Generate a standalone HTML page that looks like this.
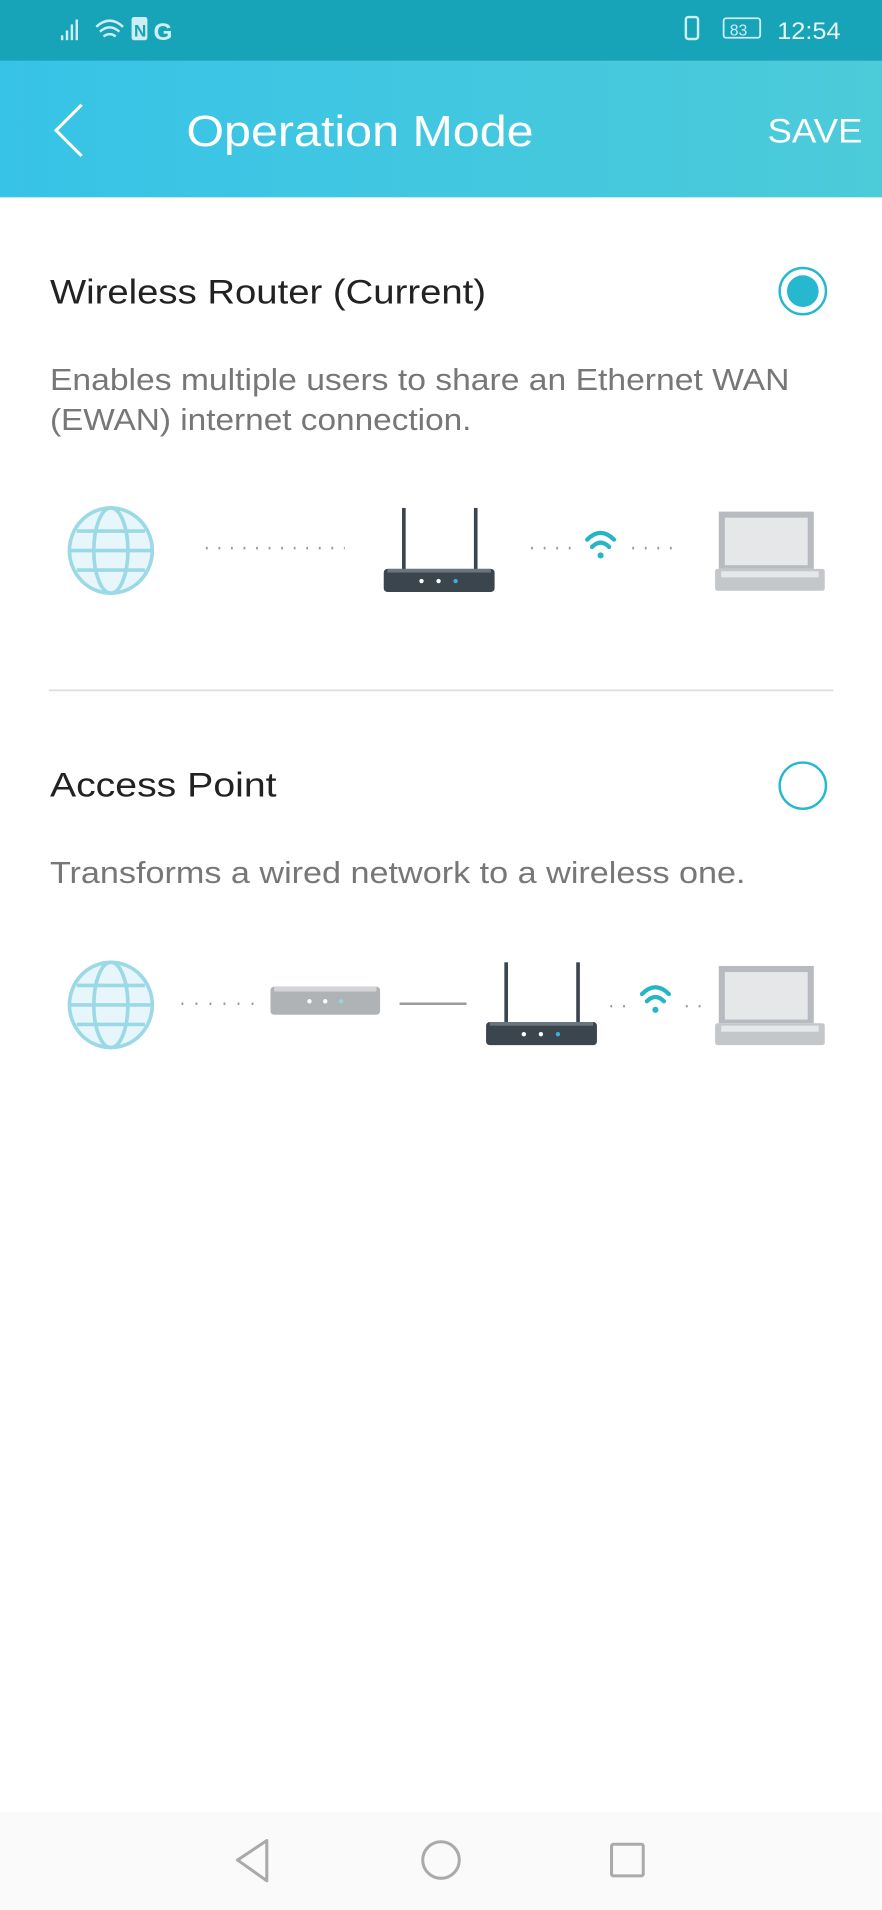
<!DOCTYPE html>
<html><head><meta charset="utf-8"><style>
html,body{margin:0;padding:0;background:#fff;}
svg{display:block;}
text{font-family:"Liberation Sans",Arial,sans-serif;}
</style></head><body>
<svg width="882" height="1910" viewBox="0 0 724 1568" preserveAspectRatio="none" xmlns="http://www.w3.org/2000/svg">
<defs>
<linearGradient id="hg" x1="0" x2="1" y1="0" y2="0"><stop offset="0" stop-color="#37c3e7"/><stop offset="1" stop-color="#4ccbd9"/></linearGradient>
</defs>
<rect width="724" height="1568" fill="#fff"/>
<!-- status bar -->
<rect x="0" y="0" width="724" height="50" fill="#17a3b8"/>
<g fill="#cdeef3">
<rect x="50" y="29" width="2" height="4"/><rect x="54" y="25" width="2" height="8"/><rect x="58" y="20" width="2" height="13"/><rect x="62" y="16" width="2" height="17"/>
</g>
<path d="M79 22 Q90 12 101 22 M82 26 Q90 19 98 26 M85 30 Q90 26 95 30" stroke="#cdeef3" stroke-width="2" fill="none"/>
<rect x="108" y="14" width="13" height="19" rx="2" fill="#cdeef3"/><text x="110" y="30" font-size="14" font-weight="bold" fill="#17a3b8">N</text>
<text x="126" y="33" font-size="20" font-weight="bold" fill="#cdeef3">G</text>
<rect x="563" y="14" width="10" height="18" rx="2" stroke="#cdeef3" stroke-width="2" fill="none"/>
<rect x="594" y="15" width="30" height="16" rx="2" stroke="#cdeef3" stroke-width="1.5" fill="none"/>
<text x="599" y="29" font-size="13" fill="#cdeef3">83</text>
<text x="638" y="32" font-size="20" fill="#e8f7fa" textLength="52" lengthAdjust="spacingAndGlyphs">12:54</text>
<!-- header -->
<rect x="0" y="50" width="724" height="112" fill="url(#hg)"/>
<path d="M67 86 L46 107 L67 128" stroke="#fff" stroke-width="2.5" fill="none"/>
<text x="153" y="120" font-size="36" fill="#fff" textLength="285" lengthAdjust="spacingAndGlyphs">Operation Mode</text>
<text x="630" y="117" font-size="28" fill="#fff" textLength="78" lengthAdjust="spacingAndGlyphs">SAVE</text>
<!-- section 1 -->
<text x="41" y="249" font-size="28" fill="#222" textLength="358" lengthAdjust="spacingAndGlyphs">Wireless Router (Current)</text>
<circle cx="659" cy="239" r="19" stroke="#26b8cf" stroke-width="2" fill="none"/>
<circle cx="659" cy="239" r="13" fill="#26b8cf"/>
<text x="41" y="320" font-size="25" fill="#777" textLength="607" lengthAdjust="spacingAndGlyphs">Enables multiple users to share an Ethernet WAN</text>
<text x="41" y="353" font-size="25" fill="#777" textLength="346" lengthAdjust="spacingAndGlyphs">(EWAN) internet connection.</text>
<!-- row 1 icons -->
<g id="globe">
<ellipse cx="91" cy="452" rx="34" ry="35" fill="#e6f6fa" stroke="#9cd9e6" stroke-width="3"/>
<ellipse cx="91" cy="452" rx="14" ry="35" fill="none" stroke="#9cd9e6" stroke-width="3"/>
<line x1="57" y1="452" x2="125" y2="452" stroke="#9cd9e6" stroke-width="3"/>
<line x1="63" y1="436" x2="119" y2="436" stroke="#9cd9e6" stroke-width="3"/>
<line x1="63" y1="468" x2="119" y2="468" stroke="#9cd9e6" stroke-width="3"/>
</g>
<line x1="169" y1="450" x2="283" y2="450" stroke="#999" stroke-width="2" stroke-dasharray="1.5 8.8"/>
<g>
<rect x="330" y="417" width="3" height="52" fill="#3a454d"/><rect x="389" y="417" width="3" height="52" fill="#3a454d"/>
<rect x="315" y="467" width="91" height="19" rx="3" fill="#3a454d"/><rect x="318" y="467" width="85" height="3" fill="#6b757c"/>
<circle cx="346" cy="477" r="1.8" fill="#fff"/><circle cx="360" cy="477" r="1.8" fill="#fff"/><circle cx="374" cy="477" r="1.8" fill="#3ab0d9"/>
</g>
<line x1="436" y1="450" x2="470" y2="450" stroke="#999" stroke-width="2" stroke-dasharray="1.5 8.8"/>
<line x1="519" y1="450" x2="556" y2="450" stroke="#999" stroke-width="2" stroke-dasharray="1.5 8.8"/>
<g stroke="#24b5c7" stroke-width="3.5" fill="none" stroke-linecap="round">
<path d="M482 443 Q493 432 504 443"/><path d="M486 449 Q493 442 500 449"/>
</g><circle cx="493" cy="456" r="2.5" fill="#24b5c7"/>
<g>
<rect x="590" y="420" width="78" height="47" fill="#b7bbbf"/><rect x="595" y="425" width="68" height="39" fill="#e6e7e9"/>
<rect x="587" y="467" width="90" height="18" rx="2" fill="#c4c7ca"/><rect x="592" y="469" width="80" height="5" fill="#e6e7e9"/>
</g>
<!-- divider -->
<rect x="40" y="566" width="644" height="1.5" fill="#ddd"/>
<!-- section 2 -->
<text x="41" y="654" font-size="28" fill="#222" textLength="186" lengthAdjust="spacingAndGlyphs">Access Point</text>
<circle cx="659" cy="645" r="19" stroke="#26b8cf" stroke-width="2" fill="none"/>
<text x="41" y="725" font-size="25" fill="#777" textLength="571" lengthAdjust="spacingAndGlyphs">Transforms a wired network to a wireless one.</text>
<use href="#globe" transform="translate(0,373)"/>
<line x1="149" y1="824" x2="208" y2="824" stroke="#999" stroke-width="2" stroke-dasharray="1.5 10"/>
<rect x="222" y="810" width="90" height="23" rx="3" fill="#b0b3b6"/><rect x="225" y="810" width="84" height="4" fill="#d2d4d6"/>
<circle cx="254" cy="822" r="1.8" fill="#fff"/><circle cx="267" cy="822" r="1.8" fill="#fff"/><circle cx="280" cy="822" r="1.8" fill="#8fd6e6"/>
<rect x="328" y="823" width="55" height="2" fill="#999"/>
<g>
<rect x="414" y="790" width="3" height="52" fill="#3a454d"/><rect x="473" y="790" width="3" height="52" fill="#3a454d"/>
<rect x="399" y="839" width="91" height="19" rx="3" fill="#3a454d"/><rect x="402" y="839" width="85" height="3" fill="#6b757c"/>
<circle cx="430" cy="849" r="1.8" fill="#fff"/><circle cx="444" cy="849" r="1.8" fill="#fff"/><circle cx="458" cy="849" r="1.8" fill="#3ab0d9"/>
</g>
<line x1="501" y1="826" x2="514" y2="826" stroke="#999" stroke-width="2" stroke-dasharray="1.5 9"/>
<line x1="563" y1="826" x2="576" y2="826" stroke="#999" stroke-width="2" stroke-dasharray="1.5 9"/>
<g stroke="#24b5c7" stroke-width="3.5" fill="none" stroke-linecap="round">
<path d="M527 816 Q538 805 549 816"/><path d="M531 822 Q538 815 545 822"/>
</g><circle cx="538" cy="829" r="2.5" fill="#24b5c7"/>
<g>
<rect x="590" y="793" width="78" height="47" fill="#b7bbbf"/><rect x="595" y="798" width="68" height="39" fill="#e6e7e9"/>
<rect x="587" y="840" width="90" height="18" rx="2" fill="#c4c7ca"/><rect x="592" y="842" width="80" height="5" fill="#e6e7e9"/>
</g>
<!-- nav bar -->
<rect x="0" y="1488" width="724" height="80" fill="#fafafa"/>
<path d="M219 1511 L195 1527 L219 1544 Z" stroke="#aaa" stroke-width="2.5" fill="none" stroke-linejoin="round"/>
<circle cx="362" cy="1527" r="15" stroke="#aaa" stroke-width="2.5" fill="none"/>
<rect x="502" y="1514" width="26" height="26" rx="1.5" stroke="#aaa" stroke-width="2.5" fill="none"/>
</svg>
</body></html>
